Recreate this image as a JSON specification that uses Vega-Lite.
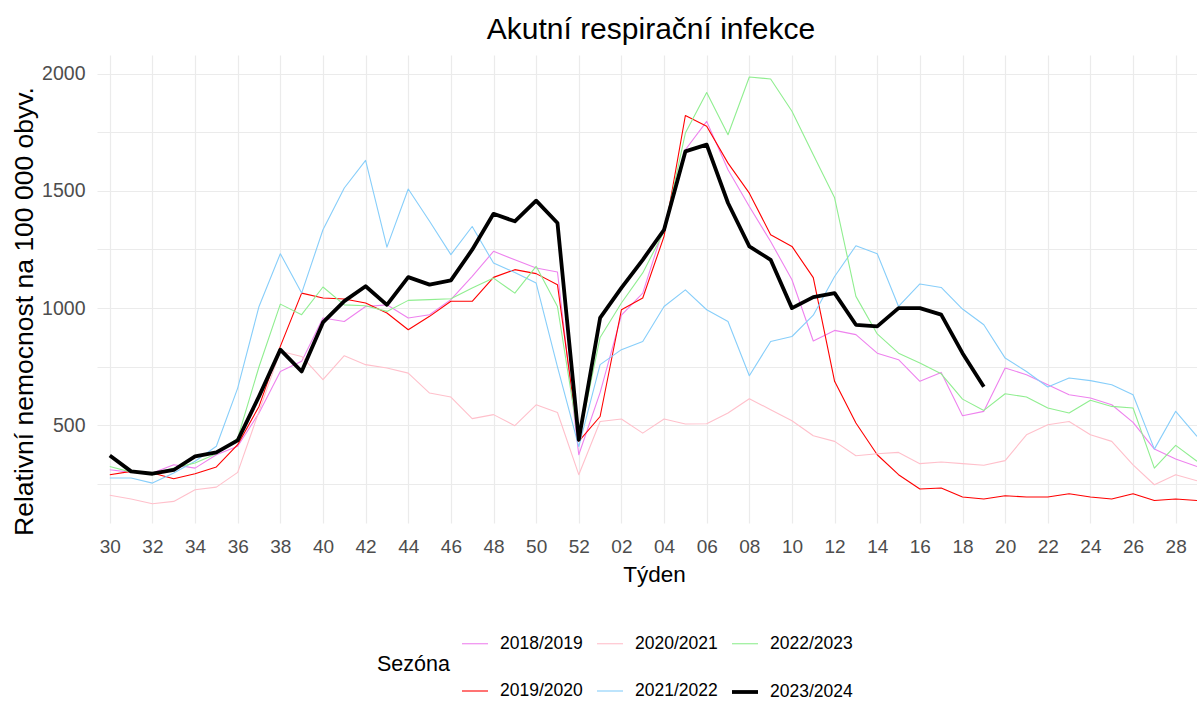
{
  "$schema": "https://vega.github.io/schema/vega-lite/v6.json",
  "width": 1100,
  "height": 468,
  "autosize": {"type": "none"},
  "padding": {"left": 97, "top": 55, "right": 0, "bottom": 179},
  "background": "white",
  "title": {"text": "Akutní respirační infekce", "fontSize": 30, "fontWeight": "normal", "color": "black", "anchor": "middle", "offset": 10, "dx": 4},
  "config": {
    "view": {"stroke": null},
    "font": "Liberation Sans",
    "axis": {"labelFont": "Liberation Sans", "titleFont": "Liberation Sans"},
    "legend": {"labelFont": "Liberation Sans", "titleFont": "Liberation Sans"}
  },
  "data": {"values": [
    {"sezona":"2018/2019","poradi":0,"hodnota":311},{"sezona":"2018/2019","poradi":1,"hodnota":300},{"sezona":"2018/2019","poradi":2,"hodnota":297},{"sezona":"2018/2019","poradi":3,"hodnota":332},{"sezona":"2018/2019","poradi":4,"hodnota":318},{"sezona":"2018/2019","poradi":5,"hodnota":375},{"sezona":"2018/2019","poradi":6,"hodnota":411},{"sezona":"2018/2019","poradi":7,"hodnota":553},{"sezona":"2018/2019","poradi":8,"hodnota":730},{"sezona":"2018/2019","poradi":9,"hodnota":773},
    {"sezona":"2018/2019","poradi":10,"hodnota":958},{"sezona":"2018/2019","poradi":11,"hodnota":943},{"sezona":"2018/2019","poradi":12,"hodnota":1007},{"sezona":"2018/2019","poradi":13,"hodnota":1014},{"sezona":"2018/2019","poradi":14,"hodnota":958},{"sezona":"2018/2019","poradi":15,"hodnota":972},{"sezona":"2018/2019","poradi":16,"hodnota":1036},{"sezona":"2018/2019","poradi":17,"hodnota":1135},{"sezona":"2018/2019","poradi":18,"hodnota":1242},{"sezona":"2018/2019","poradi":19,"hodnota":1206},
    {"sezona":"2018/2019","poradi":20,"hodnota":1171},{"sezona":"2018/2019","poradi":21,"hodnota":1154},{"sezona":"2018/2019","poradi":22,"hodnota":375},{"sezona":"2018/2019","poradi":23,"hodnota":640},{"sezona":"2018/2019","poradi":24,"hodnota":970},{"sezona":"2018/2019","poradi":25,"hodnota":1064},{"sezona":"2018/2019","poradi":26,"hodnota":1348},{"sezona":"2018/2019","poradi":27,"hodnota":1675},{"sezona":"2018/2019","poradi":28,"hodnota":1796},{"sezona":"2018/2019","poradi":29,"hodnota":1590},
    {"sezona":"2018/2019","poradi":30,"hodnota":1433},{"sezona":"2018/2019","poradi":31,"hodnota":1284},{"sezona":"2018/2019","poradi":32,"hodnota":1121},{"sezona":"2018/2019","poradi":33,"hodnota":860},{"sezona":"2018/2019","poradi":34,"hodnota":905},{"sezona":"2018/2019","poradi":35,"hodnota":887},{"sezona":"2018/2019","poradi":36,"hodnota":808},{"sezona":"2018/2019","poradi":37,"hodnota":780},{"sezona":"2018/2019","poradi":38,"hodnota":688},{"sezona":"2018/2019","poradi":39,"hodnota":726},
    {"sezona":"2018/2019","poradi":40,"hodnota":541},{"sezona":"2018/2019","poradi":41,"hodnota":560},{"sezona":"2018/2019","poradi":42,"hodnota":745},{"sezona":"2018/2019","poradi":43,"hodnota":716},{"sezona":"2018/2019","poradi":44,"hodnota":673},{"sezona":"2018/2019","poradi":45,"hodnota":631},{"sezona":"2018/2019","poradi":46,"hodnota":617},{"sezona":"2018/2019","poradi":47,"hodnota":588},{"sezona":"2018/2019","poradi":48,"hodnota":513},{"sezona":"2018/2019","poradi":49,"hodnota":399},
    {"sezona":"2018/2019","poradi":50,"hodnota":357},{"sezona":"2018/2019","poradi":51,"hodnota":325},

    {"sezona":"2019/2020","poradi":0,"hodnota":290},{"sezona":"2019/2020","poradi":1,"hodnota":304},{"sezona":"2019/2020","poradi":2,"hodnota":297},{"sezona":"2019/2020","poradi":3,"hodnota":273},{"sezona":"2019/2020","poradi":4,"hodnota":294},{"sezona":"2019/2020","poradi":5,"hodnota":323},{"sezona":"2019/2020","poradi":6,"hodnota":418},{"sezona":"2019/2020","poradi":7,"hodnota":581},{"sezona":"2019/2020","poradi":8,"hodnota":837},{"sezona":"2019/2020","poradi":9,"hodnota":1064},
    {"sezona":"2019/2020","poradi":10,"hodnota":1043},{"sezona":"2019/2020","poradi":11,"hodnota":1039},{"sezona":"2019/2020","poradi":12,"hodnota":1022},{"sezona":"2019/2020","poradi":13,"hodnota":979},{"sezona":"2019/2020","poradi":14,"hodnota":908},{"sezona":"2019/2020","poradi":15,"hodnota":965},{"sezona":"2019/2020","poradi":16,"hodnota":1029},{"sezona":"2019/2020","poradi":17,"hodnota":1029},{"sezona":"2019/2020","poradi":18,"hodnota":1131},{"sezona":"2019/2020","poradi":19,"hodnota":1164},
    {"sezona":"2019/2020","poradi":20,"hodnota":1147},{"sezona":"2019/2020","poradi":21,"hodnota":1100},{"sezona":"2019/2020","poradi":22,"hodnota":432},{"sezona":"2019/2020","poradi":23,"hodnota":538},{"sezona":"2019/2020","poradi":24,"hodnota":993},{"sezona":"2019/2020","poradi":25,"hodnota":1043},{"sezona":"2019/2020","poradi":26,"hodnota":1306},{"sezona":"2019/2020","poradi":27,"hodnota":1821},{"sezona":"2019/2020","poradi":28,"hodnota":1775},{"sezona":"2019/2020","poradi":29,"hodnota":1618},
    {"sezona":"2019/2020","poradi":30,"hodnota":1490},{"sezona":"2019/2020","poradi":31,"hodnota":1313},{"sezona":"2019/2020","poradi":32,"hodnota":1263},{"sezona":"2019/2020","poradi":33,"hodnota":1130},{"sezona":"2019/2020","poradi":34,"hodnota":688},{"sezona":"2019/2020","poradi":35,"hodnota":510},{"sezona":"2019/2020","poradi":36,"hodnota":375},{"sezona":"2019/2020","poradi":37,"hodnota":290},{"sezona":"2019/2020","poradi":38,"hodnota":229},{"sezona":"2019/2020","poradi":39,"hodnota":233},
    {"sezona":"2019/2020","poradi":40,"hodnota":195},{"sezona":"2019/2020","poradi":41,"hodnota":186},{"sezona":"2019/2020","poradi":42,"hodnota":200},{"sezona":"2019/2020","poradi":43,"hodnota":195},{"sezona":"2019/2020","poradi":44,"hodnota":195},{"sezona":"2019/2020","poradi":45,"hodnota":209},{"sezona":"2019/2020","poradi":46,"hodnota":195},{"sezona":"2019/2020","poradi":47,"hodnota":186},{"sezona":"2019/2020","poradi":48,"hodnota":209},{"sezona":"2019/2020","poradi":49,"hodnota":180},
    {"sezona":"2019/2020","poradi":50,"hodnota":186},{"sezona":"2019/2020","poradi":51,"hodnota":180},

    {"sezona":"2020/2021","poradi":0,"hodnota":202},{"sezona":"2020/2021","poradi":1,"hodnota":186},{"sezona":"2020/2021","poradi":2,"hodnota":166},{"sezona":"2020/2021","poradi":3,"hodnota":176},{"sezona":"2020/2021","poradi":4,"hodnota":226},{"sezona":"2020/2021","poradi":5,"hodnota":237},{"sezona":"2020/2021","poradi":6,"hodnota":300},{"sezona":"2020/2021","poradi":7,"hodnota":560},{"sezona":"2020/2021","poradi":8,"hodnota":816},{"sezona":"2020/2021","poradi":9,"hodnota":794},
    {"sezona":"2020/2021","poradi":10,"hodnota":695},{"sezona":"2020/2021","poradi":11,"hodnota":797},{"sezona":"2020/2021","poradi":12,"hodnota":759},{"sezona":"2020/2021","poradi":13,"hodnota":745},{"sezona":"2020/2021","poradi":14,"hodnota":723},{"sezona":"2020/2021","poradi":15,"hodnota":638},{"sezona":"2020/2021","poradi":16,"hodnota":621},{"sezona":"2020/2021","poradi":17,"hodnota":529},{"sezona":"2020/2021","poradi":18,"hodnota":546},{"sezona":"2020/2021","poradi":19,"hodnota":499},
    {"sezona":"2020/2021","poradi":20,"hodnota":588},{"sezona":"2020/2021","poradi":21,"hodnota":555},{"sezona":"2020/2021","poradi":22,"hodnota":290},{"sezona":"2020/2021","poradi":23,"hodnota":517},{"sezona":"2020/2021","poradi":24,"hodnota":527},{"sezona":"2020/2021","poradi":25,"hodnota":467},{"sezona":"2020/2021","poradi":26,"hodnota":527},{"sezona":"2020/2021","poradi":27,"hodnota":506},{"sezona":"2020/2021","poradi":28,"hodnota":507},{"sezona":"2020/2021","poradi":29,"hodnota":553},
    {"sezona":"2020/2021","poradi":30,"hodnota":614},{"sezona":"2020/2021","poradi":31,"hodnota":567},{"sezona":"2020/2021","poradi":32,"hodnota":520},{"sezona":"2020/2021","poradi":33,"hodnota":456},{"sezona":"2020/2021","poradi":34,"hodnota":432},{"sezona":"2020/2021","poradi":35,"hodnota":371},{"sezona":"2020/2021","poradi":36,"hodnota":379},{"sezona":"2020/2021","poradi":37,"hodnota":385},{"sezona":"2020/2021","poradi":38,"hodnota":337},{"sezona":"2020/2021","poradi":39,"hodnota":344},
    {"sezona":"2020/2021","poradi":40,"hodnota":337},{"sezona":"2020/2021","poradi":41,"hodnota":330},{"sezona":"2020/2021","poradi":42,"hodnota":350},{"sezona":"2020/2021","poradi":43,"hodnota":460},{"sezona":"2020/2021","poradi":44,"hodnota":503},{"sezona":"2020/2021","poradi":45,"hodnota":517},{"sezona":"2020/2021","poradi":46,"hodnota":460},{"sezona":"2020/2021","poradi":47,"hodnota":432},{"sezona":"2020/2021","poradi":48,"hodnota":332},{"sezona":"2020/2021","poradi":49,"hodnota":247},
    {"sezona":"2020/2021","poradi":50,"hodnota":290},{"sezona":"2020/2021","poradi":51,"hodnota":264},

    {"sezona":"2021/2022","poradi":0,"hodnota":276},{"sezona":"2021/2022","poradi":1,"hodnota":276},{"sezona":"2021/2022","poradi":2,"hodnota":254},{"sezona":"2021/2022","poradi":3,"hodnota":297},{"sezona":"2021/2022","poradi":4,"hodnota":347},{"sezona":"2021/2022","poradi":5,"hodnota":411},{"sezona":"2021/2022","poradi":6,"hodnota":659},{"sezona":"2021/2022","poradi":7,"hodnota":1007},{"sezona":"2021/2022","poradi":8,"hodnota":1232},{"sezona":"2021/2022","poradi":9,"hodnota":1064},
    {"sezona":"2021/2022","poradi":10,"hodnota":1334},{"sezona":"2021/2022","poradi":11,"hodnota":1512},{"sezona":"2021/2022","poradi":12,"hodnota":1630},{"sezona":"2021/2022","poradi":13,"hodnota":1260},{"sezona":"2021/2022","poradi":14,"hodnota":1508},{"sezona":"2021/2022","poradi":15,"hodnota":1370},{"sezona":"2021/2022","poradi":16,"hodnota":1228},{"sezona":"2021/2022","poradi":17,"hodnota":1348},{"sezona":"2021/2022","poradi":18,"hodnota":1192},{"sezona":"2021/2022","poradi":19,"hodnota":1152},
    {"sezona":"2021/2022","poradi":20,"hodnota":1107},{"sezona":"2021/2022","poradi":21,"hodnota":750},{"sezona":"2021/2022","poradi":22,"hodnota":410},{"sezona":"2021/2022","poradi":23,"hodnota":759},{"sezona":"2021/2022","poradi":24,"hodnota":823},{"sezona":"2021/2022","poradi":25,"hodnota":858},{"sezona":"2021/2022","poradi":26,"hodnota":1007},{"sezona":"2021/2022","poradi":27,"hodnota":1078},{"sezona":"2021/2022","poradi":28,"hodnota":993},{"sezona":"2021/2022","poradi":29,"hodnota":943},
    {"sezona":"2021/2022","poradi":30,"hodnota":712},{"sezona":"2021/2022","poradi":31,"hodnota":858},{"sezona":"2021/2022","poradi":32,"hodnota":879},{"sezona":"2021/2022","poradi":33,"hodnota":970},{"sezona":"2021/2022","poradi":34,"hodnota":1135},{"sezona":"2021/2022","poradi":35,"hodnota":1266},{"sezona":"2021/2022","poradi":36,"hodnota":1232},{"sezona":"2021/2022","poradi":37,"hodnota":1007},{"sezona":"2021/2022","poradi":38,"hodnota":1103},{"sezona":"2021/2022","poradi":39,"hodnota":1088},
    {"sezona":"2021/2022","poradi":40,"hodnota":996},{"sezona":"2021/2022","poradi":41,"hodnota":929},{"sezona":"2021/2022","poradi":42,"hodnota":787},{"sezona":"2021/2022","poradi":43,"hodnota":730},{"sezona":"2021/2022","poradi":44,"hodnota":664},{"sezona":"2021/2022","poradi":45,"hodnota":702},{"sezona":"2021/2022","poradi":46,"hodnota":691},{"sezona":"2021/2022","poradi":47,"hodnota":673},{"sezona":"2021/2022","poradi":48,"hodnota":631},{"sezona":"2021/2022","poradi":49,"hodnota":399},
    {"sezona":"2021/2022","poradi":50,"hodnota":560},{"sezona":"2021/2022","poradi":51,"hodnota":453},

    {"sezona":"2022/2023","poradi":0,"hodnota":325},{"sezona":"2022/2023","poradi":1,"hodnota":301},{"sezona":"2022/2023","poradi":2,"hodnota":294},{"sezona":"2022/2023","poradi":3,"hodnota":318},{"sezona":"2022/2023","poradi":4,"hodnota":340},{"sezona":"2022/2023","poradi":5,"hodnota":379},{"sezona":"2022/2023","poradi":6,"hodnota":446},{"sezona":"2022/2023","poradi":7,"hodnota":750},{"sezona":"2022/2023","poradi":8,"hodnota":1017},{"sezona":"2022/2023","poradi":9,"hodnota":972},
    {"sezona":"2022/2023","poradi":10,"hodnota":1090},{"sezona":"2022/2023","poradi":11,"hodnota":1014},{"sezona":"2022/2023","poradi":12,"hodnota":1010},{"sezona":"2022/2023","poradi":13,"hodnota":986},{"sezona":"2022/2023","poradi":14,"hodnota":1033},{"sezona":"2022/2023","poradi":15,"hodnota":1036},{"sezona":"2022/2023","poradi":16,"hodnota":1040},{"sezona":"2022/2023","poradi":17,"hodnota":1086},{"sezona":"2022/2023","poradi":18,"hodnota":1128},{"sezona":"2022/2023","poradi":19,"hodnota":1064},
    {"sezona":"2022/2023","poradi":20,"hodnota":1178},{"sezona":"2022/2023","poradi":21,"hodnota":1007},{"sezona":"2022/2023","poradi":22,"hodnota":435},{"sezona":"2022/2023","poradi":23,"hodnota":875},{"sezona":"2022/2023","poradi":24,"hodnota":1022},{"sezona":"2022/2023","poradi":25,"hodnota":1150},{"sezona":"2022/2023","poradi":26,"hodnota":1327},{"sezona":"2022/2023","poradi":27,"hodnota":1746},{"sezona":"2022/2023","poradi":28,"hodnota":1919},{"sezona":"2022/2023","poradi":29,"hodnota":1739},
    {"sezona":"2022/2023","poradi":30,"hodnota":1985},{"sezona":"2022/2023","poradi":31,"hodnota":1977},{"sezona":"2022/2023","poradi":32,"hodnota":1839},{"sezona":"2022/2023","poradi":33,"hodnota":1654},{"sezona":"2022/2023","poradi":34,"hodnota":1470},{"sezona":"2022/2023","poradi":35,"hodnota":1050},{"sezona":"2022/2023","poradi":36,"hodnota":890},{"sezona":"2022/2023","poradi":37,"hodnota":808},{"sezona":"2022/2023","poradi":38,"hodnota":766},{"sezona":"2022/2023","poradi":39,"hodnota":720},
    {"sezona":"2022/2023","poradi":40,"hodnota":612},{"sezona":"2022/2023","poradi":41,"hodnota":564},{"sezona":"2022/2023","poradi":42,"hodnota":635},{"sezona":"2022/2023","poradi":43,"hodnota":621},{"sezona":"2022/2023","poradi":44,"hodnota":574},{"sezona":"2022/2023","poradi":45,"hodnota":553},{"sezona":"2022/2023","poradi":46,"hodnota":607},{"sezona":"2022/2023","poradi":47,"hodnota":581},{"sezona":"2022/2023","poradi":48,"hodnota":574},{"sezona":"2022/2023","poradi":49,"hodnota":318},
    {"sezona":"2022/2023","poradi":50,"hodnota":415},{"sezona":"2022/2023","poradi":51,"hodnota":347},

    {"sezona":"2023/2024","poradi":0,"hodnota":372},{"sezona":"2023/2024","poradi":1,"hodnota":304},{"sezona":"2023/2024","poradi":2,"hodnota":294},{"sezona":"2023/2024","poradi":3,"hodnota":310},{"sezona":"2023/2024","poradi":4,"hodnota":368},{"sezona":"2023/2024","poradi":5,"hodnota":385},{"sezona":"2023/2024","poradi":6,"hodnota":436},{"sezona":"2023/2024","poradi":7,"hodnota":624},{"sezona":"2023/2024","poradi":8,"hodnota":823},{"sezona":"2023/2024","poradi":9,"hodnota":730},
    {"sezona":"2023/2024","poradi":10,"hodnota":939},{"sezona":"2023/2024","poradi":11,"hodnota":1030},{"sezona":"2023/2024","poradi":12,"hodnota":1093},{"sezona":"2023/2024","poradi":13,"hodnota":1014},{"sezona":"2023/2024","poradi":14,"hodnota":1132},{"sezona":"2023/2024","poradi":15,"hodnota":1100},{"sezona":"2023/2024","poradi":16,"hodnota":1118},{"sezona":"2023/2024","poradi":17,"hodnota":1249},{"sezona":"2023/2024","poradi":18,"hodnota":1402},{"sezona":"2023/2024","poradi":19,"hodnota":1370},
    {"sezona":"2023/2024","poradi":20,"hodnota":1458},{"sezona":"2023/2024","poradi":21,"hodnota":1363},{"sezona":"2023/2024","poradi":22,"hodnota":439},{"sezona":"2023/2024","poradi":23,"hodnota":958},{"sezona":"2023/2024","poradi":24,"hodnota":1086},{"sezona":"2023/2024","poradi":25,"hodnota":1206},{"sezona":"2023/2024","poradi":26,"hodnota":1334},{"sezona":"2023/2024","poradi":27,"hodnota":1668},{"sezona":"2023/2024","poradi":28,"hodnota":1697},{"sezona":"2023/2024","poradi":29,"hodnota":1448},
    {"sezona":"2023/2024","poradi":30,"hodnota":1263},{"sezona":"2023/2024","poradi":31,"hodnota":1206},{"sezona":"2023/2024","poradi":32,"hodnota":1000},{"sezona":"2023/2024","poradi":33,"hodnota":1047},{"sezona":"2023/2024","poradi":34,"hodnota":1064},{"sezona":"2023/2024","poradi":35,"hodnota":929},{"sezona":"2023/2024","poradi":36,"hodnota":922},{"sezona":"2023/2024","poradi":37,"hodnota":1000},{"sezona":"2023/2024","poradi":38,"hodnota":1000},{"sezona":"2023/2024","poradi":39,"hodnota":972},
    {"sezona":"2023/2024","poradi":40,"hodnota":808},{"sezona":"2023/2024","poradi":41,"hodnota":665}
  ]},
  "encoding": {
    "x": {
      "field": "poradi", "type": "quantitative",
      "scale": {"domain": [-0.6, 51], "nice": false, "zero": false},
      "axis": {
        "title": "Týden",
        "values": [0,2,4,6,8,10,12,14,16,18,20,22,24,26,28,30,32,34,36,38,40,42,44,46,48,50],
        "labelExpr": "datum.value <= 22 ? '' + (datum.value + 30) : (datum.value - 22 < 10 ? '0' : '') + (datum.value - 22)",
        "grid": true, "gridColor": "#EBEBEB", "gridWidth": 1.2,
        "domain": false, "ticks": false, "tickSize": 0,
        "labelFontSize": 19, "labelColor": "#4D4D4D", "labelPadding": 14, "labelFlush": false, "labelOverlap": false,
        "titleFontSize": 22.5, "titleColor": "black", "titleFontWeight": "normal", "titlePadding": 7, "titleX": 557
      }
    },
    "y": {
      "field": "hodnota", "type": "quantitative",
      "scale": {"domain": [84, 2079], "nice": false, "zero": false},
      "axis": {
        "title": "Relativní nemocnost na 100 000 obyv.",
        "values": [250,500,750,1000,1250,1500,1750,2000],
        "format": "d",
        "labelExpr": "datum.value % 500 == 0 ? datum.label : ''",
        "grid": true, "gridColor": "#EBEBEB", "gridWidth": 1.2,
        "domain": false, "ticks": false, "tickSize": 0,
        "labelFontSize": 19.5, "labelColor": "#4D4D4D", "labelPadding": 12, "labelFlush": false, "labelOverlap": false,
        "titleFontSize": 26.5, "titleColor": "black", "titleFontWeight": "normal", "titlePadding": 3, "titleY": 256
      }
    },
    "color": {
      "field": "sezona", "type": "nominal", "title": "Sezóna",
      "scale": {
        "domain": ["2018/2019","2020/2021","2022/2023","2019/2020","2021/2022","2023/2024"],
        "range": ["#EE82EE","#FFC0CB","#90EE90","#FF0000","#87CEFA","#000000"]
      },
      "legend": {
        "orient": "none", "legendX": 280, "legendY": 574,
        "direction": "horizontal", "columns": 3, "padding": 0, "gridAlign": "all",
        "symbolType": "stroke", "symbolSize": 676,
        "labelFontSize": 17.5, "labelColor": "black", "labelOffset": 10,
        "titleFontSize": 21.5, "titleFontWeight": "normal", "titleColor": "black",
        "titleOrient": "left", "titleAnchor": "middle", "titlePadding": 10,
        "columnPadding": 6, "rowPadding": 24
      }
    },
    "strokeWidth": {
      "field": "sezona", "type": "nominal", "title": "Sezóna",
      "scale": {
        "type": "ordinal",
        "domain": ["2018/2019","2020/2021","2022/2023","2019/2020","2021/2022","2023/2024"],
        "range": [1.1,1.1,1.1,1.1,1.1,3.8]
      }
    }
  },
  "layer": [
    {"transform": [{"filter": "datum.sezona != '2023/2024'"}], "mark": {"type": "line", "strokeJoin": "round"}},
    {"transform": [{"filter": "datum.sezona == '2023/2024'"}], "mark": {"type": "line", "strokeJoin": "round"}}
  ]
}
